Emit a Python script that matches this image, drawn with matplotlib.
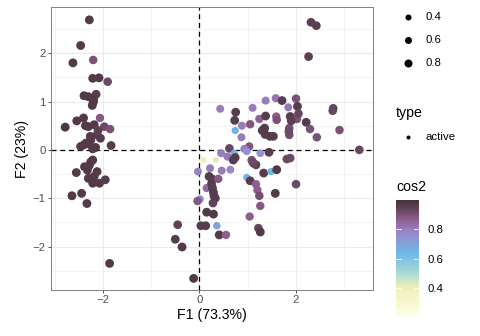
import numpy as np
import matplotlib
matplotlib.use("Agg")
import matplotlib.pyplot as plt
from matplotlib.colors import LinearSegmentedColormap, Normalize
from matplotlib.cm import ScalarMappable

plt.rcParams['font.family'] = ['Liberation Sans', 'DejaVu Sans']

# individuals: first principal plane coordinates and cos2
f1 = [-2.28, -2.46, -2.62, -2.20, -2.21, -2.08, -1.90, -2.39, -2.30, -2.14,
      -2.19, -2.22, -2.54, -2.40, -2.06, -2.78, -2.30, -2.18, -1.97, -1.85,
      -2.12, -2.26, -2.05, -2.35, -2.46, -2.21, -1.83, -2.29, -2.21, -2.38,
      -2.28, -2.55, -2.12, -2.30, -1.95, -2.21, -2.07, -2.64, -2.44, -2.33,
      -1.86, -2.25, -2.15, -2.32, -2.18, -2.10, -2.36, -2.20, -2.25, -2.40,
      2.31, 2.42, 2.26, 1.37, 1.58, 1.71, 2.00, 1.84, 2.03, 0.43,
      0.75, 1.10, 0.73, 1.24, 1.37, 1.59, 1.88, 2.02, 2.21, 2.77,
      2.76, 2.90, 0.74, 0.88, 1.05, 0.87, 1.35, 1.36, 1.46, 1.53,
      1.86, 1.86, 2.29, 2.43, 3.31, 0.62, 1.03, 0.93, 0.98, 0.45,
      0.58, 0.72, 0.70, 1.26, 1.44, 1.08, 1.17, 1.12, 1.81, 1.88,
      0.08, 0.34, -0.03, 0.22, 0.46, 0.64, 0.26, 0.39, 1.33, 1.48,
      1.60, 0.98, 1.05, 1.17, 1.20, 1.24, 1.57, 2.00, 0.15, 0.27,
      0.29, 0.33, 0.01, -0.04, 0.28, 1.26, 0.15, 0.29, 1.04, 0.03,
      0.13, 0.36, 0.41, 0.55, 1.22, 1.26, -0.12, -0.45, -0.50, -0.36,
      0.74, 1.30, 1.90, 1.10, 0.30, 1.60, 0.25, 1.85, 0.20, 2.05]
f2 = [2.69, 2.16, 1.80, 1.86, 1.48, 1.49, 1.41, 1.12, 1.10, 1.15,
      1.03, 0.92, 0.60, 0.66, 0.66, 0.47, 0.48, 0.52, 0.48, 0.43,
      0.31, 0.28, 0.24, 0.14, 0.07, 0.02, 0.09, 0.12, -0.21, -0.35,
      -0.32, -0.47, -0.45, -0.59, -0.62, -0.69, -0.69, -0.95, -0.90, -1.11,
      -2.35, 0.20, 0.05, -0.42, -0.55, 0.40, 0.50, 0.98, -0.25, 0.10,
      2.64, 2.57, 1.93, 1.02, 1.07, 1.02, 1.06, 0.88, 0.90, 0.85,
      0.78, 0.87, 0.61, 0.64, 0.70, 0.69, 0.69, 0.64, 0.57, 0.86,
      0.81, 0.41, 0.40, 0.50, 0.53, 0.26, 0.45, 0.32, 0.28, 0.28,
      0.45, 0.31, 0.43, 0.26, 0.00, 0.03, 0.07, 0.02, -0.03, -0.07,
      -0.14, -0.07, -0.21, -0.07, -0.05, -0.21, -0.31, -0.28, -0.19, -0.17,
      -0.21, -0.21, -0.45, -0.38, -0.43, -0.41, -0.60, -0.60, -0.48, -0.45,
      -0.41, -0.57, -0.64, -0.71, -0.83, -0.95, -0.90, -0.71, -0.79, -0.79,
      -0.88, -1.00, -1.02, -1.06, -1.10, -1.16, -1.29, -1.33, -1.38, -1.57,
      -1.57, -1.57, -1.76, -1.76, -1.62, -1.70, -2.66, -1.55, -1.85, -2.01,
      -0.16, 0.40, 0.60, -0.25, -0.95, 0.62, -0.70, 0.38, -0.55, 0.75]
cos2 = [.97, .97, .97, .90, .97, .97, .92, .97, .97, .96,
        .97, .97, .97, .97, .88, .98, .97, .97, .92, .90,
        .96, .97, .96, .97, .97, .97, .96, .97, .97, .97,
        .97, .97, .97, .97, .96, .97, .97, .97, .97, .97,
        .97, .97, .97, .97, .97, .95, .97, .97, .97, .97,
        .95, .95, .95, .80, .82, .96, .90, .81, .96, .80,
        .96, .80, .96, .86, .96, .87, .96, .90, .96, .93,
        .93, .90, .65, .80, .89, .80, .96, .96, .96, .96,
        .91, .91, .90, .90, .93, .93, .89, .80, .75, .80,
        .81, .66, .96, .75, .96, .89, .95, .93, .93, .92,
        .40, .42, .79, .80, .80, .78, .96, .88, .96, .64,
        .97, .65, .96, .87, .87, .91, .97, .92, .84, .96,
        .96, .95, .76, .88, .94, .88, .97, .97, .87, .96,
        .96, .70, .97, .87, .93, .97, .97, .94, .96, .97,
        .96, .96, .95, .92, .96, .90, .96, .92, .96, .93]

size_breaks = [0.4, 0.6, 0.8]
cbar_ticks = [0.4, 0.6, 0.8]

W, H = 480, 336
fig = plt.figure(figsize=(W / 100, H / 100), dpi=100)

def fx(px):
    return px / W

def fy(py):
    return 1 - py / H

cmap = LinearSegmentedColormap.from_list("cos2", [
    (0.00, "#FFFDE6"), (0.24, "#EEF0B6"), (0.37, "#A8DAD6"),
    (0.54, "#6FB7E6"), (0.72, "#9A88C8"), (0.84, "#8C5C8C"),
    (0.93, "#5E4256"), (1.00, "#45323C")])
norm = Normalize(vmin=0.21, vmax=1.0)

def pt_size(c):
    d = (4 + 5 * np.asarray(c)) * 0.72
    return d ** 2

TITLE = 10.2
SMALL = 8.2

ax = fig.add_axes([fx(50.7), fy(290), fx(373.3) - fx(50.7), fy(7.3) - fy(290)])
ax.set_xlim(-3.08, 3.60)
ax.set_ylim(-2.90, 2.95)
ax.set_xticks([-2, 0, 2])
ax.set_xticks([-3, -1, 1, 3], minor=True)
ax.set_yticks([-2, -1, 0, 1, 2])
ax.set_yticks(np.arange(-2.5, 3, 1.0), minor=True)
ax.grid(which="major", color="#EBEBEB", linewidth=0.8)
ax.grid(which="minor", color="#EBEBEB", linewidth=0.4)
ax.set_axisbelow(True)
for s in ax.spines.values():
    s.set_color("#7F7F7F")
    s.set_linewidth(0.7)
ax.tick_params(which="major", length=2, width=0.6, color="#333333",
               labelsize=SMALL, labelcolor="#4D4D4D", pad=1.5)
ax.tick_params(which="minor", length=0)

ax.axhline(0, color="black", linestyle=(0, (4, 3)), linewidth=0.9, zorder=1)
ax.axvline(0, color="black", linestyle=(0, (4, 3)), linewidth=0.9, zorder=1)

ax.scatter(f1, f2, c=cos2, cmap=cmap, norm=norm, s=pt_size(cos2),
           linewidths=0, zorder=2)

ax.set_xlabel("F1 (73.3%)", fontsize=TITLE, labelpad=2)
ax.set_ylabel("F2 (23%)", fontsize=TITLE, labelpad=3)

# legends drawn in pixel space
lg = fig.add_axes([0, 0, 1, 1])
lg.set_xlim(0, W)
lg.set_ylim(H, 0)
lg.axis("off")
for i, b in enumerate(size_breaks):
    y = 17.3 + i * 22.7
    lg.scatter([407.7], [y], s=pt_size(b), color="black", linewidths=0)
    lg.text(426, y, f"{b:.1f}", fontsize=SMALL, va="center", ha="left")
lg.text(396, 112.7, "type", fontsize=TITLE, va="center", ha="left")
lg.scatter([407.7], [137.3], s=(4 * 0.72) ** 2, color="black", linewidths=0)
lg.text(426, 137.3, "active", fontsize=SMALL, va="center", ha="left")
lg.text(396, 186.7, "cos2", fontsize=TITLE, va="center", ha="left")

cax = fig.add_axes([fx(396), fy(315.7), fx(419) - fx(396), fy(200) - fy(315.7)])
cb = fig.colorbar(ScalarMappable(norm=norm, cmap=cmap), cax=cax)
cb.outline.set_visible(False)
cb.set_ticks(cbar_ticks)
cb.set_ticklabels([f"{t:.1f}" for t in cbar_ticks])
cax.tick_params(length=0, labelsize=SMALL, pad=6)
for t in cbar_ticks:
    cax.plot([0, 0.2], [t, t], color="white", linewidth=0.6)
    cax.plot([0.8, 1], [t, t], color="white", linewidth=0.6)

fig.savefig("out.png", dpi=100)
